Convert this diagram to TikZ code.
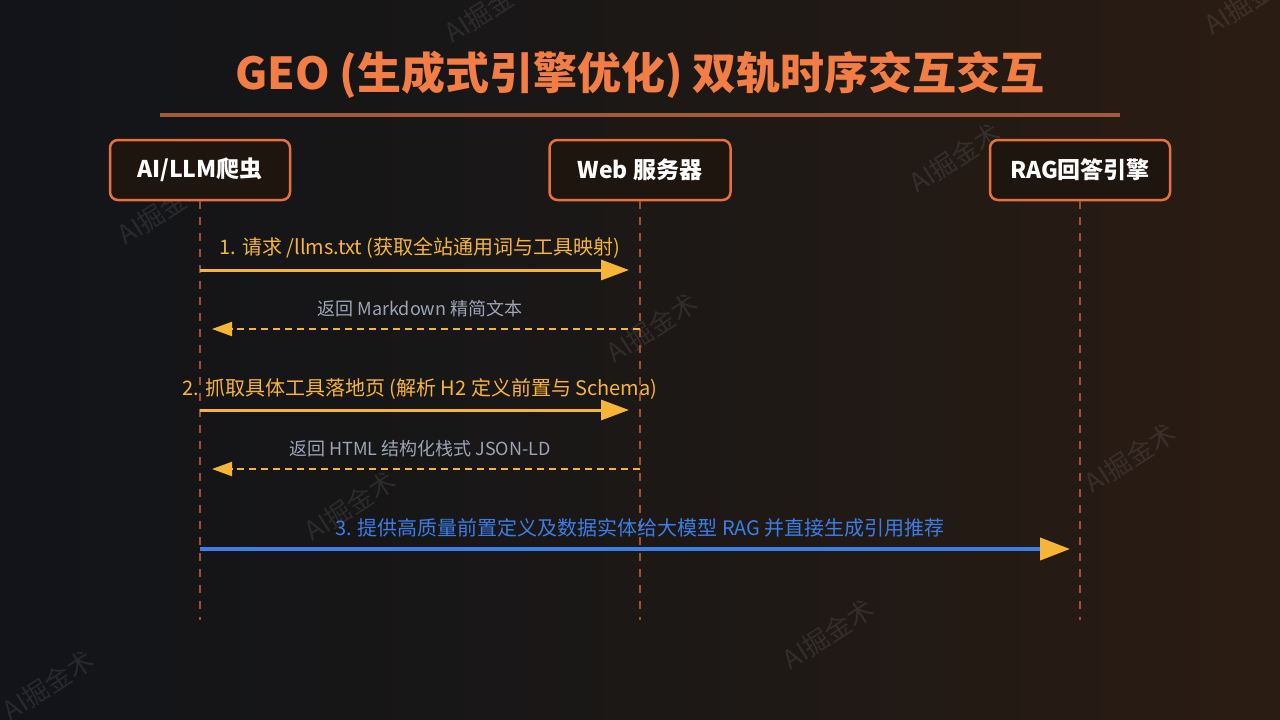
\documentclass[tikz,border=0pt]{standalone}
\usepackage{fontspec}
\setmainfont{Noto Sans CJK SC}
\usetikzlibrary{arrows.meta}
\definecolor{bgL}{HTML}{121419}
\definecolor{bgM}{HTML}{1B1816}
\definecolor{bgR}{HTML}{2B1C13}
\definecolor{titleC}{HTML}{F27D45}
\definecolor{ruleC}{HTML}{A35A3A}
\definecolor{boxB}{HTML}{E8703F}
\definecolor{boxF}{HTML}{1F150F}
\definecolor{lifeC}{HTML}{9A5536}
\definecolor{msgY}{HTML}{F7B538}
\definecolor{retG}{HTML}{9CA4B5}
\definecolor{msgB}{HTML}{3C7DE6}
\tikzset{
  actor/.style={draw=boxB, line width=2.5pt, fill=boxF, rounded corners=8pt,
    minimum height=60pt, text=white, font=\fontsize{23}{27}\selectfont\bfseries},
  lifeline/.style={draw=lifeC, line width=2.3pt, dash pattern=on 8pt off 8pt},
  callarrow/.style={draw=msgY, line width=3pt, -{Triangle[length=28pt,width=20pt]}},
  retarrow/.style={draw=msgY, line width=2pt, dash pattern=on 7pt off 5pt, -{Triangle[length=20pt,width=14pt]}},
  bluearrow/.style={draw=msgB, line width=4pt, -{Triangle[length=30pt,width=22pt,color=msgY]}},
  calllabel/.style={text=msgY, font=\fontsize{20}{24}\selectfont},
  retlabel/.style={text=retG, font=\fontsize{18}{22}\selectfont},
  bluelabel/.style={text=msgB, font=\fontsize{20}{24}\selectfont},
  wmark/.style={text=white, opacity=0.09, rotate=33, font=\fontsize{26}{30}\selectfont}
}
\begin{document}
\begin{tikzpicture}[x=1pt,y=-1pt]
\useasboundingbox (0,0) rectangle (1280,720);
\shade[left color=bgL, right color=bgR, middle color=bgM] (0,0) rectangle (1280,720);

% watermarks
\foreach \wx/\wy [count=\i] in {163/210, 490/8, 652/328, 955/158, 1130/458, 350/506, 828/634, 48/685, 1250/0}
  \node[wmark] (wm\i) at (\wx,\wy) {AI掘金术};

% title
\node[text=titleC, font=\fontsize{44}{50}\selectfont\bfseries] (title) at (640,75) {GEO (生成式引擎优化) 双轨时序交互交互};
\coordinate (ruleL) at (160,115);
\coordinate (ruleR) at (1120,115);
\draw[ruleC, line width=4pt] (ruleL) -- (ruleR);

% actors
\node[actor, minimum width=180pt] (ai) at (200,170) {AI/LLM爬虫};
\node[actor, minimum width=181pt] (web) at (640,170) {Web 服务器};
\node[actor, minimum width=180pt] (rag) at (1080,170) {RAG回答引擎};

% lifelines
\coordinate (aiEnd) at (200,620);
\coordinate (webEnd) at (640,620);
\coordinate (ragEnd) at (1080,620);
\draw[lifeline] (ai.south) -- (aiEnd);
\draw[lifeline] (web.south) -- (webEnd);
\draw[lifeline] (rag.south) -- (ragEnd);

% message anchor points
\coordinate (a1) at (200,270); \coordinate (w1) at (629,270);
\coordinate (w2) at (640,329); \coordinate (a2) at (212,329);
\coordinate (a3) at (200,410); \coordinate (w3) at (629,410);
\coordinate (w4) at (640,469); \coordinate (a4) at (212,469);
\coordinate (a5) at (200,549); \coordinate (r5) at (1070,549);

\draw[callarrow] (a1) -- (w1);
\node[calllabel] (l1) at (420,248) {1. 请求 /llms.txt (获取全站通用词与工具映射)};
\draw[retarrow] (w2) -- (a2);
\node[retlabel] (l2) at (420,309) {返回 Markdown 精简文本};
\draw[callarrow] (a3) -- (w3);
\node[calllabel] (l3) at (420,389) {2. 抓取具体工具落地页 (解析 H2 定义前置与 Schema)};
\draw[retarrow] (w4) -- (a4);
\node[retlabel] (l4) at (420,449) {返回 HTML 结构化栈式 JSON-LD};
\draw[bluearrow] (a5) -- (r5);
\node[bluelabel] (l5) at (640,528) {3. 提供高质量前置定义及数据实体给大模型 RAG 并直接生成引用推荐};
\end{tikzpicture}
\end{document}
